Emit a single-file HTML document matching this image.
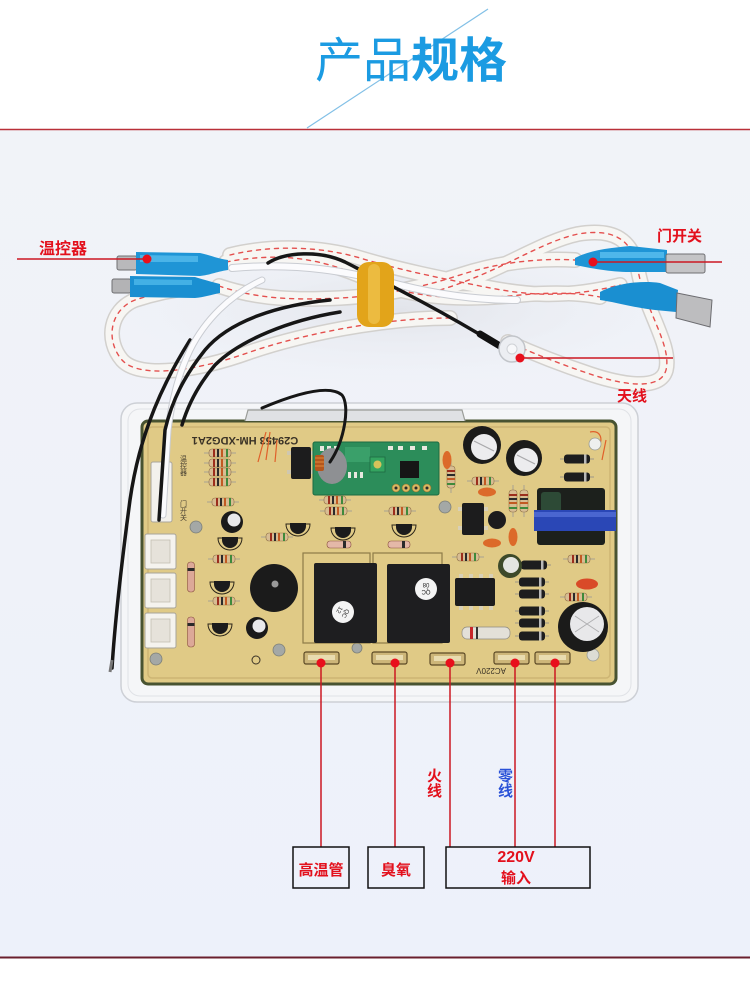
<!DOCTYPE html>
<html><head><meta charset="utf-8"><style>
html,body{margin:0;padding:0;background:#fff;}
body{width:750px;height:983px;overflow:hidden;}
svg{display:block;}
text{font-family:"Liberation Sans","Noto Sans CJK SC",sans-serif;}
</style></head><body>
<svg width="750" height="983" viewBox="0 0 750 983" xmlns="http://www.w3.org/2000/svg">
<defs>
<linearGradient id="bg" x1="0" y1="0" x2="0" y2="1">
<stop offset="0" stop-color="#f1f3f8"/><stop offset="1" stop-color="#edf1fa"/>
</linearGradient>
<linearGradient id="diag" x1="0" y1="0" x2="1" y2="1">
<stop offset="0" stop-color="#b9dcf2"/><stop offset="1" stop-color="#4aa3da"/>
</linearGradient>
<radialGradient id="shadow" cx="0.5" cy="0.5" r="0.5">
<stop offset="0" stop-color="#e2e4ea"/><stop offset="1" stop-color="#eef1f7" stop-opacity="0"/>
</radialGradient>
<g id="res"><line x1="-3" y1="0" x2="29" y2="0" stroke="#a9a293" stroke-width="1"/><rect x="2" y="-4" width="22" height="8" rx="3" fill="#d8bd93" stroke="#8f7048" stroke-width=".6"/><rect x="6" y="-4" width="2" height="8" fill="#9c2e1c"/><rect x="10" y="-4" width="2" height="8" fill="#2a2a2a"/><rect x="14" y="-4" width="2" height="8" fill="#c25a22"/><rect x="19" y="-4" width="2" height="8" fill="#3f8a3a"/></g>
<g id="dio"><line x1="-3" y1="0" x2="31" y2="0" stroke="#9c9688" stroke-width="1"/><rect x="1" y="-4.5" width="26" height="9" rx="3" fill="#1d1d1e"/><rect x="21" y="-4.5" width="2.5" height="9" fill="#b8b8b8"/></g>
<g id="tr"><path d="M-12,-2 A12,12 0 0 0 12,-2 Z" fill="none" stroke="#2a2418" stroke-width="1"/><path d="M-8,-3 L8,-3 L8,0 A8,8 0 0 1 -8,0 Z" fill="#1b1b1c"/></g>
<g id="term"><rect x="0" y="0" width="35" height="12" rx="2" fill="#cdb679" stroke="#5c4a26" stroke-width="1.2"/><rect x="4" y="3" width="27" height="5" fill="#e9dcb0"/></g>
<g id="conn"><rect x="0" y="0" width="31" height="35" rx="2" fill="#f5f3ee" stroke="#a8a49a" stroke-width="1"/><rect x="6" y="6" width="19" height="23" fill="#e6e2da" stroke="#c4beb2" stroke-width=".8"/></g>
</defs>

<!-- header -->
<rect x="0" y="0" width="750" height="983" fill="#ffffff"/>
<line x1="488" y1="9" x2="307" y2="128" stroke="url(#diag)" stroke-width="1.2"/>
<text x="315" y="77" font-size="48" fill="#1b9be2"><tspan font-weight="400">产品</tspan><tspan font-weight="700">规格</tspan></text>

<!-- photo area -->
<rect x="0" y="130" width="750" height="827" fill="url(#bg)"/>
<line x1="0" y1="129.5" x2="750" y2="129.5" stroke="#b93038" stroke-width="1.6"/>
<line x1="0" y1="957.5" x2="750" y2="957.5" stroke="#6a1f2e" stroke-width="2"/>

<!-- soft shadow behind cables -->
<ellipse cx="400" cy="310" rx="320" ry="80" fill="url(#shadow)"/>

<!-- braided cables -->
<g fill="none" stroke-linecap="round">
<g stroke="#d2d0cd" stroke-width="16">
<path id="c1" d="M226,262 C290,250 330,262 375,282 C420,300 470,300 520,295 C555,292 580,293 600,297"/>
<path id="c2" d="M219,286 C260,300 300,300 340,298 C380,296 420,288 460,275 C500,262 540,258 575,260"/>
<path id="c3" d="M450,318 C380,318 300,335 250,352 C200,370 140,380 122,360 C105,340 110,310 135,300 C150,295 170,290 190,288"/>
<path id="c4" d="M440,290 C500,272 540,242 578,234 C615,228 632,240 638,270 C645,310 672,345 666,370 C660,392 620,384 590,374 C560,364 530,352 508,342"/>
<path id="c5" d="M230,255 C270,245 320,246 360,258 C400,270 440,278 480,286 C520,294 560,300 620,285"/>
</g>
<g stroke="#f7f6f3" stroke-width="13">
<use href="#c1"/><use href="#c2"/><use href="#c3"/><use href="#c4"/><use href="#c5"/>
</g>
<g stroke="#e4504e" stroke-width="1.4" stroke-dasharray="4 5">
<use href="#c1"/><use href="#c2"/><use href="#c3"/><use href="#c4"/><use href="#c5"/>
</g>
</g>

<!-- white wire along bundle -->
<path d="M232,268 C300,262 350,272 400,285 C440,295 480,300 517,300" fill="none" stroke="#c9ccd2" stroke-width="8" stroke-linecap="round"/>
<path d="M232,268 C300,262 350,272 400,285 C440,295 480,300 517,300" fill="none" stroke="#fbfbfd" stroke-width="6" stroke-linecap="round"/>

<!-- black wire to antenna -->
<path d="M268,263 C285,252 320,250 345,262 C390,285 440,310 494,343" fill="none" stroke="#161616" stroke-width="3.5" stroke-linecap="round"/>
<path d="M480,334 L500,346" stroke="#111" stroke-width="7" stroke-linecap="round"/>
<circle cx="512" cy="349" r="13" fill="#eceef2" stroke="#c2c5ca" stroke-width="1.5"/>
<circle cx="512" cy="349" r="5" fill="#f7f8fa" stroke="#cfd2d6" stroke-width="1"/>

<!-- yellow rubber band -->
<rect x="357" y="262" width="37" height="65" rx="12" fill="#e2a41a"/>
<rect x="368" y="264" width="12" height="60" rx="6" fill="#efc04a" opacity=".8"/>

<!-- blue connectors left -->
<rect x="117" y="256" width="20" height="14" rx="2" fill="#b9b9bb" stroke="#6f6f72" stroke-width="1"/>
<path d="M136,252 L200,253 C210,255 215,258 228,260 L228,270 C215,272 210,275 200,276 L136,274 Z" fill="#1f95d6"/>
<path d="M140,255 L198,256 L198,262 L140,262 Z" fill="#5cc2f0" opacity=".7"/>
<rect x="112" y="279" width="19" height="14" rx="2" fill="#b3b3b5" stroke="#6f6f72" stroke-width="1"/>
<path d="M130,276 L195,277 C205,280 212,282 220,284 L220,293 C210,295 205,297 195,298 L130,297 Z" fill="#1a8fd1"/>
<path d="M134,279 L192,280 L192,285 L134,285 Z" fill="#55bdee" opacity=".7"/>

<!-- blue connectors right -->
<path d="M575,258 C590,250 610,248 630,246 L667,250 L667,272 L630,272 C610,272 590,268 575,265 Z" fill="#1e95d6"/>
<path d="M600,252 L664,252 L664,258 L600,258 Z" fill="#62c6f2" opacity=".7"/>
<rect x="666" y="254" width="39" height="19" rx="2" fill="#c4c4c6" stroke="#707073" stroke-width="1"/>
<path d="M600,292 C615,284 640,280 660,283 L678,290 L676,312 L655,310 C635,308 615,302 600,300 Z" fill="#1a8fd1"/>
<path d="M677,293 L712,300 L710,327 L676,318 Z" fill="#bdbdbf" stroke="#6c6c70" stroke-width="1"/>

<!-- plastic tray -->
<rect x="121" y="403" width="517" height="299" rx="16" fill="#f5f6f8" stroke="#cdd0d6" stroke-width="1.5"/>
<rect x="128" y="409" width="503" height="287" rx="12" fill="none" stroke="#e0e2e6" stroke-width="1"/>

<!-- PCB board -->
<rect x="142" y="421" width="474" height="263" rx="6" fill="#e0ca86" stroke="#485331" stroke-width="3"/>
<rect x="148" y="427" width="462" height="251" rx="4" fill="none" stroke="#cdb574" stroke-width="1.5"/>
<!-- tray top bump shadow -->
<path d="M245,421 L248,410 L462,410 L465,421" fill="#dfe1e4" stroke="#9a9c98" stroke-width="1.2"/>

<!-- silk text -->
<text transform="translate(245,437) rotate(180)" text-anchor="middle" font-size="11" font-weight="700" fill="#3a3226">C29453 HM-XDG2A1</text>
<text x="183" y="455" font-size="7" fill="#4a4232" writing-mode="tb">温控器</text>
<text x="183" y="500" font-size="7" fill="#4a4232" writing-mode="tb">门开关</text>
<path d="M258,462 L266,432 M266,460 L270,432 M275,462 L277,440" stroke="#e0602a" stroke-width="1.2"/>
<path d="M590,432 C600,430 604,438 598,448 M602,460 L606,440" stroke="#e0602a" stroke-width="1.2" fill="none"/>

<!-- mounting holes -->
<g fill="#a4a8a6" stroke="#7c7f78" stroke-width=".8">
<circle cx="196" cy="527" r="6"/><circle cx="156" cy="659" r="6"/><circle cx="279" cy="650" r="6"/><circle cx="445" cy="507" r="6"/><circle cx="357" cy="648" r="5"/>
</g>
<circle cx="595" cy="444" r="6" fill="#eef0ee" stroke="#9a9d94" stroke-width=".8"/>
<circle cx="593" cy="655" r="6" fill="#dcdcd4" stroke="#9a9d94" stroke-width=".8"/>

<!-- left connectors -->
<rect x="151" y="462" width="21" height="60" rx="2" fill="#f3f1ec" stroke="#aaa59b" stroke-width="1"/>
<use href="#conn" x="145" y="534"/>
<use href="#conn" x="145" y="573"/>
<use href="#conn" x="145" y="613"/>

<!-- resistors -->
<use href="#res" x="207" y="453"/>
<use href="#res" x="207" y="463"/>
<use href="#res" x="207" y="472"/>
<use href="#res" x="207" y="482"/>
<use href="#res" x="210" y="502"/>
<use href="#res" x="264" y="537"/>
<use href="#res" x="322" y="500"/>
<use href="#res" x="323" y="511"/>
<use href="#res" x="387" y="511"/>
<use href="#res" x="211" y="559"/>
<use href="#res" x="211" y="601"/>
<use href="#res" x="455" y="557"/>
<use href="#res" x="566" y="559"/>
<use href="#res" x="470" y="481"/>
<use href="#res" x="563" y="597"/>
<use href="#res" transform="translate(451,464) rotate(90)"/>
<use href="#res" transform="translate(513,488) rotate(90)"/>
<use href="#res" transform="translate(524,488) rotate(90)"/>

<!-- glass diodes -->
<g><rect x="327" y="541" width="24" height="7" rx="3" fill="#e4b8a8" stroke="#8a5040" stroke-width=".6"/><rect x="343" y="541" width="3" height="7" fill="#2a2a2a"/></g>
<g><rect x="388" y="541" width="22" height="7" rx="3" fill="#e4b8a8" stroke="#8a5040" stroke-width=".6"/><rect x="402" y="541" width="3" height="7" fill="#2a2a2a"/></g>
<g transform="translate(191,562) rotate(90)"><rect x="0" y="-3.5" width="30" height="7" rx="3" fill="#dca898" stroke="#8a5040" stroke-width=".6"/><rect x="6" y="-3.5" width="3" height="7" fill="#2a2a2a"/></g>
<g transform="translate(191,617) rotate(90)"><rect x="0" y="-3.5" width="30" height="7" rx="3" fill="#dca898" stroke="#8a5040" stroke-width=".6"/><rect x="6" y="-3.5" width="3" height="7" fill="#2a2a2a"/></g>

<!-- transistors -->
<use href="#tr" x="298" y="526"/>
<use href="#tr" x="343" y="530"/>
<use href="#tr" x="404" y="527"/>
<use href="#tr" x="230" y="540"/>
<use href="#tr" x="222" y="584"/>
<use href="#tr" x="220" y="626"/>
<circle cx="497" cy="520" r="9" fill="#1c1c1d"/>

<!-- black ICs -->
<rect x="291" y="447" width="20" height="32" rx="2" fill="#1c1c1d"/>
<g fill="#cfc7b0"><rect x="287" y="451" width="4" height="4"/><rect x="287" y="470" width="4" height="4"/><rect x="311" y="451" width="4" height="4"/><rect x="311" y="470" width="4" height="4"/></g>
<rect x="462" y="503" width="22" height="32" rx="2" fill="#1c1c1d"/>
<g fill="#d8d0b8"><rect x="458" y="507" width="4" height="4"/><rect x="458" y="526" width="4" height="4"/><rect x="484" y="507" width="4" height="4"/><rect x="484" y="526" width="4" height="4"/></g>
<rect x="455" y="578" width="40" height="28" rx="2" fill="#1c1c1d"/>
<g fill="#d8d0b8"><rect x="459" y="574" width="4" height="4"/><rect x="469" y="574" width="4" height="4"/><rect x="479" y="574" width="4" height="4"/><rect x="489" y="574" width="4" height="4"/><rect x="459" y="606" width="4" height="4"/><rect x="469" y="606" width="4" height="4"/><rect x="479" y="606" width="4" height="4"/><rect x="489" y="606" width="4" height="4"/></g>

<!-- black diodes -->
<use href="#dio" x="563" y="459"/>
<use href="#dio" x="563" y="477"/>
<use href="#dio" x="520" y="565"/>
<use href="#dio" x="518" y="582"/>
<use href="#dio" x="518" y="594"/>
<use href="#dio" x="518" y="611"/>
<use href="#dio" x="518" y="623"/>
<use href="#dio" x="518" y="636"/>

<!-- big white resistor -->
<rect x="462" y="627" width="48" height="12" rx="5" fill="#e3e0d8" stroke="#8e8a80" stroke-width=".7"/>
<rect x="470" y="627" width="3" height="12" fill="#c8262a"/><rect x="476" y="627" width="2" height="12" fill="#333"/>

<!-- orange caps -->
<g fill="#dc6a2a">
<ellipse cx="447" cy="460" rx="4.5" ry="9"/>
<ellipse cx="487" cy="492" rx="9" ry="4.5"/>
<ellipse cx="513" cy="537" rx="4.5" ry="9"/>
<ellipse cx="492" cy="543" rx="9" ry="4.5"/>
<ellipse cx="587" cy="584" rx="11" ry="5.5" fill="#d94a28"/>
</g>

<!-- electrolytic caps -->
<g>
<circle cx="232" cy="522" r="11" fill="#1a1a1a"/><circle cx="234" cy="520" r="6.5" fill="#e9e9eb"/>
<circle cx="257" cy="628" r="11" fill="#1a1a1a"/><circle cx="259" cy="626" r="6.5" fill="#e9e9eb"/>
<circle cx="482" cy="445" r="19" fill="#1b1b1a"/><circle cx="484" cy="447" r="13" fill="#ececee"/><path d="M474,441 L494,451" stroke="#a8a8aa" stroke-width="1.2"/>
<circle cx="524" cy="458" r="18" fill="#1b1b1a"/><circle cx="526" cy="460" r="12" fill="#ececee"/><path d="M517,455 L535,464" stroke="#a8a8aa" stroke-width="1.2"/>
<circle cx="510" cy="566" r="12" fill="#3d4a2a"/><circle cx="511" cy="565" r="8" fill="#e4e6e2"/>
<circle cx="583" cy="627" r="25" fill="#1b1b1a"/><circle cx="587" cy="624" r="17" fill="#e8e8ea"/><path d="M575,616 L599,632 M575,632 L599,616" stroke="#b0b0b2" stroke-width="1"/>
</g>

<!-- buzzer -->
<circle cx="274" cy="588" r="24" fill="#1b1b1b"/>
<circle cx="275" cy="584" r="3.5" fill="#9a9a9a"/>
<circle cx="256" cy="660" r="4" fill="none" stroke="#3a3226" stroke-width="1"/>

<!-- transformer -->
<rect x="537" y="488" width="68" height="57" rx="3" fill="#1c201c"/>
<rect x="541" y="492" width="20" height="20" rx="3" fill="#2d4a36"/>
<rect x="534" y="510" width="82" height="21" fill="#2a47b6"/>
<rect x="534" y="512" width="82" height="5" fill="#4a66d0"/>

<!-- relay footprints and relays -->
<rect x="303" y="553" width="67" height="90" fill="none" stroke="#8d7b48" stroke-width="1.2"/>
<rect x="373" y="553" width="69" height="90" fill="none" stroke="#8d7b48" stroke-width="1.2"/>
<rect x="314" y="563" width="63" height="80" rx="2" fill="#1e1e20"/>
<rect x="387" y="564" width="63" height="79" rx="2" fill="#1e1e20"/>
<circle cx="343" cy="612" r="11" fill="#f4f4f4"/>
<text transform="translate(343,612) rotate(120)" text-anchor="middle" font-size="6" fill="#222" y="-1">QC</text>
<text transform="translate(343,612) rotate(120)" text-anchor="middle" font-size="6" fill="#222" y="6">12</text>
<circle cx="426" cy="589" r="11" fill="#f4f4f4"/>
<text transform="translate(426,589) rotate(180)" text-anchor="middle" font-size="6" fill="#222" y="-1">QC</text>
<text transform="translate(426,589) rotate(180)" text-anchor="middle" font-size="6" fill="#222" y="6">08</text>

<!-- green RF module -->
<rect x="313" y="442" width="126" height="53" rx="2" fill="#2c8d5a" stroke="#1d6a42" stroke-width="1"/>
<rect x="345" y="447" width="25" height="15" fill="#3aa06a"/>
<g fill="#e8e8e0"><rect x="320" y="446" width="4" height="5"/><rect x="327" y="446" width="4" height="5"/><rect x="334" y="446" width="4" height="5"/><rect x="348" y="472" width="3" height="6"/><rect x="354" y="472" width="3" height="6"/><rect x="360" y="472" width="3" height="6"/><rect x="388" y="446" width="5" height="4"/><rect x="398" y="446" width="5" height="4"/><rect x="410" y="446" width="5" height="4"/><rect x="422" y="446" width="5" height="4"/></g>
<rect x="370" y="457" width="15" height="15" fill="#34a460" stroke="#1d6a42" stroke-width=".8"/>
<circle cx="377.5" cy="464.5" r="4" fill="#d6c25a"/>
<rect x="400" y="461" width="19" height="17" fill="#161616"/>
<g fill="#d9b862" stroke="#8a6e2a" stroke-width=".6"><circle cx="396" cy="488" r="4"/><circle cx="406" cy="488" r="4"/><circle cx="416" cy="488" r="4"/><circle cx="427" cy="488" r="4"/></g>
<g fill="#2c2c2c"><circle cx="396" cy="488" r="1.5"/><circle cx="406" cy="488" r="1.5"/><circle cx="416" cy="488" r="1.5"/><circle cx="427" cy="488" r="1.5"/></g>
<ellipse cx="332" cy="466" rx="15" ry="18" fill="#8e9093"/>
<rect x="315" y="455" width="9" height="16" rx="2" fill="#b4561c"/>
<path d="M315,458 h9 M315,462 h9 M315,466 h9" stroke="#e08a3a" stroke-width="1"/>

<!-- bottom terminals -->
<use href="#term" x="304" y="652"/>
<use href="#term" x="372" y="652"/>
<use href="#term" x="430" y="653"/>
<use href="#term" x="494" y="652"/>
<use href="#term" x="535" y="652"/>
<text x="470" y="674" font-size="8" fill="#3a3226" transform="rotate(180,488,671)">AC220V</text>

<!-- wires going down into board (on top) -->
<path d="M190,340 C165,380 140,430 130,500 C122,560 115,620 112,668" fill="none" stroke="#161616" stroke-width="3.5" stroke-linecap="round"/>
<path d="M112,660 L110,672" stroke="#777" stroke-width="3"/>
<path d="M262,280 C230,295 205,320 190,350 C178,375 172,400 168,430 L163,515" fill="none" stroke="#c9ccd2" stroke-width="7" stroke-linecap="round"/>
<path d="M262,280 C230,295 205,320 190,350 C178,375 172,400 168,430 L163,515" fill="none" stroke="#fbfbfd" stroke-width="5" stroke-linecap="round"/>
<path d="M330,300 C280,305 230,320 205,350 C185,375 172,400 165,430 L159,520" fill="none" stroke="#161616" stroke-width="3.5" stroke-linecap="round"/>
<path d="M340,312 C290,320 240,340 215,365 C198,385 188,405 182,425" fill="none" stroke="#161616" stroke-width="3.5" stroke-linecap="round"/>
<path d="M262,408 C300,392 330,385 342,395 C350,405 345,440 330,462" fill="none" stroke="#161616" stroke-width="3" stroke-linecap="round"/>

<!-- annotation lines -->
<g stroke="#cc1822" stroke-width="1.5">
<line x1="17" y1="259" x2="147" y2="259"/>
<line x1="593" y1="262" x2="722" y2="262"/>
<line x1="520" y1="358" x2="673" y2="358"/>
<line x1="321" y1="663" x2="321" y2="847"/>
<line x1="395" y1="663" x2="395" y2="847"/>
<line x1="450" y1="663" x2="450" y2="847"/>
<line x1="515" y1="663" x2="515" y2="847"/>
<line x1="555" y1="663" x2="555" y2="847"/>
</g>
<g fill="#e8101c">
<circle cx="147" cy="259" r="4.5"/>
<circle cx="593" cy="262" r="4.5"/>
<circle cx="520" cy="358" r="4.5"/>
<circle cx="321" cy="663" r="4.5"/>
<circle cx="395" cy="663" r="4.5"/>
<circle cx="450" cy="663" r="4.5"/>
<circle cx="515" cy="663" r="4.5"/>
<circle cx="555" cy="663" r="4.5"/>
</g>

<!-- labels -->
<g font-weight="700" fill="#e3101c">
<text x="39" y="254" font-size="16">温控器</text>
<text x="657" y="241" font-size="15">门开关</text>
<text x="617" y="401" font-size="15">天线</text>
<text x="427" y="781" font-size="15">火</text>
<text x="427" y="796" font-size="15">线</text>
</g>
<g font-weight="700" fill="#2a52d8">
<text x="498" y="781" font-size="15">零</text>
<text x="498" y="796" font-size="15">线</text>
</g>

<!-- bottom boxes -->
<g fill="none" stroke="#111" stroke-width="1.5">
<rect x="293" y="847" width="56" height="41"/>
<rect x="368" y="847" width="56" height="41"/>
<rect x="446" y="847" width="144" height="41"/>
</g>
<g font-weight="700" fill="#e3101c" text-anchor="middle">
<text x="321" y="875" font-size="15">高温管</text>
<text x="396" y="875" font-size="15">臭氧</text>
<text x="516" y="862" font-size="16">220V</text>
<text x="516" y="883" font-size="15">输入</text>
</g>
</svg>
</body></html>
